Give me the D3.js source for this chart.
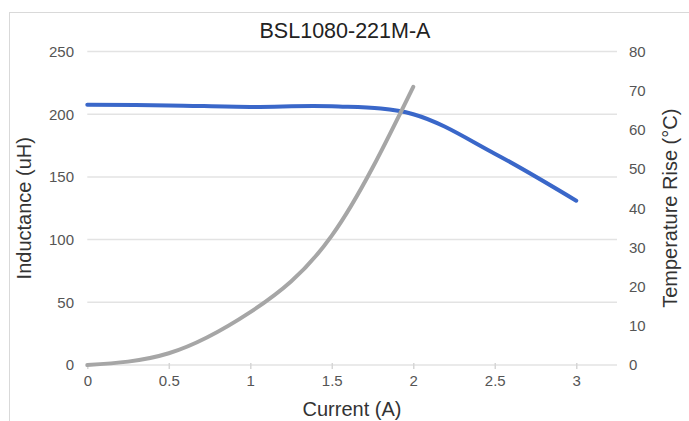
<!DOCTYPE html>
<html>
<head>
<meta charset="utf-8">
<script src="https://cdn.jsdelivr.net/npm/d3@7"></script>
<style>
  html, body { margin: 0; padding: 0; background: #ffffff; }
  svg { display: block; font-family: "Liberation Sans", Arial, sans-serif; }
</style>
</head>
<body>
<svg id="chart" width="689" height="421"></svg>
<script>
const title = "BSL1080-221M-A";
const xLabel = "Current (A)";
const yLeftLabel = "Inductance (uH)";
const yRightLabel = "Temperature Rise (°C)";

const currentInd = [0, 0.5, 1, 1.5, 2, 2.5, 3];
const inductance = [207.5, 207, 205.8, 206.3, 200, 168.5, 131];

const currentTemp = [0, 0.5, 1, 1.5, 2];
const tempRise = [0, 3, 13.5, 33, 71];

const xTicks = [0, 0.5, 1, 1.5, 2, 2.5, 3];
const yLeftTicks = [0, 50, 100, 150, 200, 250];
const yRightTicks = [0, 10, 20, 30, 40, 50, 60, 70, 80];

const svg = d3.select("#chart");

// outer frame
svg.append("rect")
  .attr("x", 9.5).attr("y", 12.5)
  .attr("width", 700).attr("height", 430)
  .attr("fill", "#fff").attr("stroke", "#d9d9d9").attr("stroke-width", 1);

const x = d3.scaleLinear().domain([0, 3.25]).range([87.3, 617]);
const yL = d3.scaleLinear().domain([0, 250]).range([365, 51.5]);
const yR = d3.scaleLinear().domain([0, 80]).range([365, 51.5]);

// gridlines (left axis)
svg.append("g").selectAll("line").data(yLeftTicks).join("line")
  .attr("x1", x(0)).attr("x2", x(3.25))
  .attr("y1", d => yL(d)).attr("y2", d => yL(d))
  .attr("stroke", "#e3e3e3").attr("stroke-width", 1.5);

// x axis ticks and labels
const xAxis = d3.axisBottom(x).tickValues(xTicks).tickSize(5).tickSizeOuter(0)
  .tickFormat(d => String(d));
const gx = svg.append("g").attr("transform", `translate(0,${yL(0) - 1})`).call(xAxis);
gx.select(".domain").remove();
gx.selectAll(".tick line").attr("stroke", "#d6d6d6").attr("stroke-width", 1.5).attr("y1", -1);
gx.selectAll(".tick text").attr("fill", "#555").attr("font-size", 15)
  .attr("font-family", "Liberation Sans, Arial, sans-serif").attr("dy", "1.05em").attr("y", 6);

// left axis labels
const yAxisL = d3.axisLeft(yL).tickValues(yLeftTicks).tickSize(0).tickPadding(0);
const gyl = svg.append("g").attr("transform", "translate(74,0)").call(yAxisL);
gyl.select(".domain").remove();
gyl.selectAll(".tick text").attr("fill", "#555").attr("font-size", 15)
  .attr("font-family", "Liberation Sans, Arial, sans-serif");

// right axis labels
const yAxisR = d3.axisRight(yR).tickValues(yRightTicks).tickSize(0).tickPadding(0);
const gyr = svg.append("g").attr("transform", "translate(629,0)").call(yAxisR);
gyr.select(".domain").remove();
gyr.selectAll(".tick text").attr("fill", "#555").attr("font-size", 15)
  .attr("font-family", "Liberation Sans, Arial, sans-serif");

// series
const lineInd = d3.line()
  .x((d, i) => x(currentInd[i]))
  .y(d => yL(d))
  .curve(d3.curveCatmullRom.alpha(0.5));
const lineTemp = d3.line()
  .x((d, i) => x(currentTemp[i]))
  .y(d => yR(d))
  .curve(d3.curveNatural);

svg.append("path").datum(inductance)
  .attr("d", lineInd).attr("fill", "none")
  .attr("stroke", "#3a67c9").attr("stroke-width", 4)
  .attr("stroke-linecap", "round").attr("stroke-linejoin", "round");

svg.append("path").datum(tempRise)
  .attr("d", lineTemp).attr("fill", "none")
  .attr("stroke", "#a6a6a6").attr("stroke-width", 4)
  .attr("stroke-linecap", "round").attr("stroke-linejoin", "round");

// titles
svg.append("text").attr("x", 345).attr("y", 38)
  .attr("text-anchor", "middle").attr("font-size", 21.5).attr("fill", "#222")
  .text(title);

svg.append("text").attr("x", 352).attr("y", 416)
  .attr("text-anchor", "middle").attr("font-size", 20).attr("fill", "#333")
  .text(xLabel);

svg.append("text")
  .attr("transform", `translate(31,${(yL(0) + yL(250)) / 2}) rotate(-90)`)
  .attr("text-anchor", "middle").attr("font-size", 20).attr("fill", "#333")
  .text(yLeftLabel);

svg.append("text")
  .attr("transform", `translate(677,${(yR(0) + yR(80)) / 2}) rotate(-90)`)
  .attr("text-anchor", "middle").attr("font-size", 20).attr("fill", "#333")
  .text(yRightLabel);
</script>
</body>
</html>
